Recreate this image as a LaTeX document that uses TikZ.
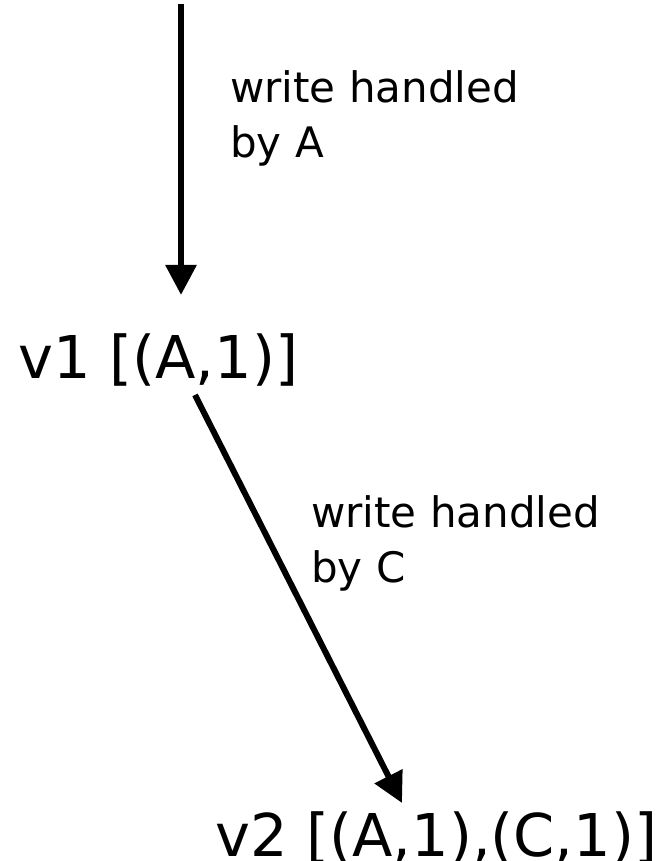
\documentclass[tikz,border=0pt]{standalone}
\usepackage{fontspec}
\setmainfont{DejaVu Sans}
\usepackage{tikz}
\usetikzlibrary{calc, arrows.meta, positioning}

\begin{document}
\begin{tikzpicture}[x=1pt, y=-1pt,
    version/.style={inner sep=0, anchor=base west, font=\fontsize{59}{70}\selectfont},
    note/.style={inner sep=0, anchor=north west, align=left, font=\fontsize{42}{55}\selectfont},
    flow/.style={line width=6pt, -{Triangle[length=30pt, width=30pt]}}]
  \useasboundingbox (0,0) rectangle (664,861);
  % Versions
  \node[version] (v1) at (18,378) {v1 [(A,1)]};
  \node[version] (v2) at (215,856) {v2 [(A,1),(C,1)]};
  % Premiere ecriture
  \coordinate (top) at (181,4);
  \draw[flow] (top) -- (top |- v1.north) [shorten >=38pt];
  \node[note] (wa) at (230,70) {write handled\\by A};
  % Deuxieme ecriture
  \draw[flow] ([xshift=177pt, yshift=-9pt]v1.south west)
    -- ([xshift=187pt, yshift=8pt]v2.north west);
  \node[note] (wc) at (311,495) {write handled\\by C};
\end{tikzpicture}
\end{document}
